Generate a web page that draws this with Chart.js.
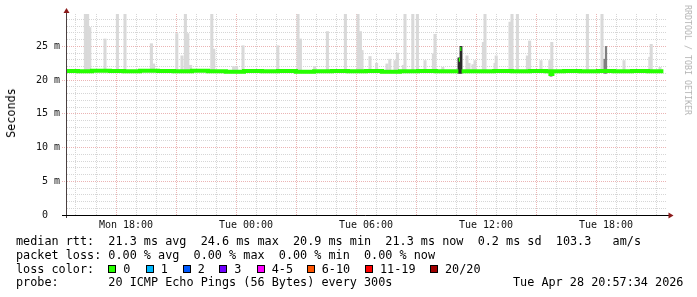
<!DOCTYPE html>
<html>
<head>
<meta charset="utf-8">
<script src="https://cdn.jsdelivr.net/npm/chart.js@4.4.1/dist/chart.umd.min.js"></script>
<style>
  body { margin: 0; background: #fff; }
  #wrap { position: relative; width: 697px; height: 297px; overflow: hidden; font-family: 'DejaVu Sans Mono', monospace; color: #000; }
  #chart { position: absolute; left: 0; top: 0; }
  .txt { position: absolute; left: 16px; font-size: 11.8px; line-height: 14px; white-space: pre; }
  #ytitle { position: absolute; left: 11px; top: 113px; font-size: 11.8px; white-space: nowrap; transform: translate(-50%, -50%) rotate(-90deg); }
  #brand { position: absolute; left: 688px; top: 60px; font-size: 8.3px; white-space: nowrap; color: #b4b4b4; transform: translate(-50%, -50%) rotate(90deg); }
  .box { position: absolute; width: 6px; height: 6px; border: 1px solid #000; }
</style>
</head>
<body>
<div id="wrap">
  <canvas id="chart" width="697" height="235"></canvas>
  <div id="ytitle">Seconds</div>
  <div id="brand">RRDTOOL / TOBI OETIKER</div>
  <div class="txt" id="rttLine" style="top:234px"></div>
  <div class="txt" id="lossLine" style="top:247.8px"></div>
  <div class="txt" id="colorLine" style="top:261.6px">loss color:</div>
  <div class="txt" id="probeLine" style="top:275.4px"></div>
  <div class="txt" id="stampLine" style="top:275.4px; left:513px"></div>
</div>
<script>
// time axis in hours since Mon 00:00
const xStart = 15.05;
const xEnd = 45.05;
const xTickHours = [18, 24, 30, 36, 42];
const xTickLabels = ['Mon 18:00', 'Tue 00:00', 'Tue 06:00', 'Tue 12:00', 'Tue 18:00'];
const yTop = 29.8; // ms

// median rtt (ms), null breaks the band
const medianHours = [15.05, 15.6, 16.3, 17.2, 17.9, 18.7, 19.6, 20.4, 21.3, 22.1, 23.0, 23.9, 24.8, 25.6,
  26.5, 27.4, 28.3, 29.1, 30.0, 30.8, 31.7, 32.6, 33.5, 34.3, 34.62, 34.63, 34.64, 34.70, 34.705, 34.71,
  34.77, 34.775, 34.78, 35.6, 36.4, 37.3, 38.2, 39.0, 39.22, 39.32, 39.9, 40.7, 41.6, 42.4, 43.3, 44.1, 44.87];
const medianValues = [21.35, 21.3, 21.4, 21.35, 21.3, 21.4, 21.35, 21.3, 21.4, 21.3, 21.25, 21.35, 21.3, 21.35,
  21.25, 21.3, 21.35, 21.3, 21.35, 21.25, 21.3, 21.35, 21.3, 21.3, 21.3, null, 23.0, 23.0, null, 24.6,
  24.6, null, 21.3, 21.3, 21.35, 21.3, 21.35, 21.3, 20.9, 21.3, 21.35, 21.3, 21.35, 21.3, 21.35, 21.3, 21.3];

// smoke: top of ping spread (ms) per step
const smokeHours = [15.97, 16.08, 16.19, 16.95, 17.57, 17.95, 19.27, 19.38, 20.54, 20.80, 20.97, 21.09, 21.23,
  22.29, 22.39, 23.38, 23.53, 23.85, 25.59, 26.60, 26.72, 27.43, 28.07, 28.97, 29.60, 29.72, 29.80, 30.20,
  30.53, 31.05, 31.19, 31.45, 31.57, 31.87, 31.95, 32.34, 32.57, 32.95, 33.37, 33.45, 33.84, 35.05, 35.15,
  35.35, 35.45, 35.87, 35.95, 36.45, 36.51, 37.20, 37.30, 37.57, 38.07, 38.18, 38.75, 39.19, 39.29, 41.07,
  41.80, 42.90, 44.19, 44.26, 44.70];
const smokeTops = [29.8, 29.8, 27.8, 26.1, 29.8, 29.8, 25.4, 22.4, 26.9, 23.6, 29.8, 26.9, 22.2,
  29.8, 24.6, 22.0, 22.0, 25.1, 25.1, 29.8, 26.1, 22.0, 27.2, 29.8, 29.8, 27.2, 24.4, 23.5,
  22.5, 22.4, 23.1, 22.9, 24.0, 22.2, 29.8, 29.8, 29.8, 22.9, 23.9, 26.8, 21.9, 23.6, 22.5,
  22.3, 22.9, 25.6, 29.8, 22.5, 23.6, 28.6, 29.8, 29.8, 23.6, 25.8, 22.9, 22.9, 25.6, 29.8,
  29.8, 22.9, 23.4, 25.3, 21.9];
const smokeBase = 21.2;

// dense smoke (many pings close together)
const denseHours = [34.65, 34.75, 39.25];
const denseLows = [21.0, 21.0, 20.6];
const denseHighs = [23.3, 25.0, 21.3];
const midHours = [41.93, 42.0];
const midLows = [21.0, 21.0];
const midHighs = [23.1, 25.0];

// summary texts
const rttStats = ['21.3', '24.6', '20.9', '21.3', '0.2', '103.3'];
const lossStats = ['0.00', '0.00', '0.00', '0.00'];
const lossLabels = ['0', '1', '2', '3', '4-5', '6-10', '11-19', '20/20'];
const lossColors = ['#26ff00', '#00b8ff', '#0059ff', '#7000ff', '#ff00ff', '#ff5500', '#ff0000', '#a00000'];
const probeText = '20 ICMP Echo Pings (56 Bytes) every 300s';
const stampText = 'Tue Apr 28 20:57:34 2026';

const boxLefts = [108.3, 145.7, 182.7, 219.3, 256.7, 306.7, 365, 430];

document.getElementById('rttLine').textContent =
  'median rtt:  ' + rttStats[0] + ' ms avg  ' + rttStats[1] + ' ms max  ' + rttStats[2] + ' ms min  ' +
  rttStats[3] + ' ms now  ' + rttStats[4] + ' ms sd  ' + rttStats[5] + '   am/s';
document.getElementById('lossLine').textContent =
  'packet loss: ' + lossStats[0] + ' % avg  ' + lossStats[1] + ' % max  ' + lossStats[2] + ' % min  ' + lossStats[3] + ' % now';
document.getElementById('probeLine').textContent = 'probe:       ' + probeText;
document.getElementById('stampLine').textContent = stampText;

const wrap = document.getElementById('wrap');
lossLabels.forEach((lab, i) => {
  const b = document.createElement('div');
  b.className = 'box';
  b.style.left = boxLefts[i] + 'px';
  b.style.top = '264.7px';
  b.style.background = lossColors[i];
  wrap.appendChild(b);
  const t = document.createElement('div');
  t.className = 'txt';
  t.style.left = (boxLefts[i] + 15) + 'px';
  t.style.top = '261.6px';
  t.textContent = lab;
  wrap.appendChild(t);
});

const minorGrid = '#d6d6d6';
const majorGrid = '#ebb4b4';

const axisArrows = {
  id: 'axisArrows',
  afterDraw(chart) {
    const { ctx, chartArea: a } = chart;
    ctx.save();
    ctx.lineWidth = 1;
    ctx.strokeStyle = '#4a4040';
    ctx.beginPath();
    ctx.moveTo(a.left - 0.5, a.bottom + 3);
    ctx.lineTo(a.left - 0.5, a.top - 2);
    ctx.stroke();
    ctx.strokeStyle = '#000';
    ctx.beginPath();
    ctx.moveTo(a.left - 5, a.bottom + 0.5);
    ctx.lineTo(a.right + 2, a.bottom + 0.5);
    ctx.stroke();
    ctx.fillStyle = '#8b1a1a';
    ctx.beginPath();
    ctx.moveTo(a.left - 0.5, a.top - 6);
    ctx.lineTo(a.left - 3.5, a.top - 1);
    ctx.lineTo(a.left + 2.5, a.top - 1);
    ctx.closePath();
    ctx.fill();
    ctx.beginPath();
    ctx.moveTo(a.right + 6.5, a.bottom + 0.5);
    ctx.lineTo(a.right + 1.5, a.bottom - 2.5);
    ctx.lineTo(a.right + 1.5, a.bottom + 3.5);
    ctx.closePath();
    ctx.fill();
    ctx.restore();
  }
};

Chart.defaults.font.family = "'DejaVu Sans Mono', monospace";

new Chart(document.getElementById('chart'), {
  type: 'bar',
  data: {
    datasets: [
      {
        type: 'line',
        label: 'median',
        data: medianHours.map((h, i) => ({ x: h, y: medianValues[i] })),
        borderColor: '#26ff00',
        borderWidth: 4,
        pointRadius: 0,
        stepped: true,
        spanGaps: false,
        order: 1
      },
      {
        label: 'dense',
        data: denseHours.map((h, i) => ({ x: h, y: [denseLows[i], denseHighs[i]] })),
        backgroundColor: '#2a2a2a',
        barThickness: 2.2,
        grouped: false,
        order: 2
      },
      {
        label: 'mid',
        data: midHours.map((h, i) => ({ x: h, y: [midLows[i], midHighs[i]] })),
        backgroundColor: '#808080',
        barThickness: 1.6,
        grouped: false,
        order: 3
      },
      {
        label: 'smoke',
        data: smokeHours.map((h, i) => ({ x: h, y: [smokeBase, smokeTops[i]] })),
        backgroundColor: '#d9d9d9',
        barThickness: 2.4,
        grouped: false,
        order: 4
      }
    ]
  },
  options: {
    responsive: false,
    animation: false,
    devicePixelRatio: 1,
    layout: { padding: { top: 14, right: 30, bottom: 0, left: 0 } },
    plugins: { legend: { display: false }, tooltip: { enabled: false } },
    scales: {
      x: {
        type: 'linear',
        min: xStart,
        max: xEnd,
        offset: false,
        afterBuildTicks: s => {
          const t = [];
          for (let h = 16; h <= 44; h++) t.push({ value: h });
          s.ticks = t;
        },
        afterFit: s => { s.height = 20; },
        grid: {
          color: c => (c.tick && c.tick.value % 3 === 0 ? majorGrid : minorGrid),
          drawTicks: false,
          lineWidth: 1
        },
        border: { display: false, dash: [1, 1] },
        ticks: {
          autoSkip: false,
          maxRotation: 0,
          padding: 4,
          color: '#111',
          font: { size: 10 },
          callback: v => {
            const i = xTickHours.indexOf(v);
            return i < 0 ? '' : xTickLabels[i];
          }
        }
      },
      y: {
        min: 0,
        max: yTop,
        afterBuildTicks: s => {
          const t = [];
          for (let v = 0; v <= 29; v++) t.push({ value: v });
          s.ticks = t;
        },
        afterFit: s => { s.width = 67; },
        grid: {
          color: c => (c.tick && c.tick.value % 5 === 0 ? majorGrid : minorGrid),
          tickColor: c => (c.tick && c.tick.value % 5 === 0 ? majorGrid : 'rgba(0,0,0,0)'),
          tickLength: 5,
          tickBorderDash: [1, 1],
          lineWidth: 1
        },
        border: { display: false, dash: [1, 1] },
        ticks: {
          autoSkip: false,
          padding: 2,
          color: '#111',
          font: { size: 10 },
          callback: v => (v % 5 !== 0 ? '' : (v === 0 ? '0  ' : v + ' m'))
        }
      }
    }
  },
  plugins: [axisArrows]
});
</script>
</body>
</html>
